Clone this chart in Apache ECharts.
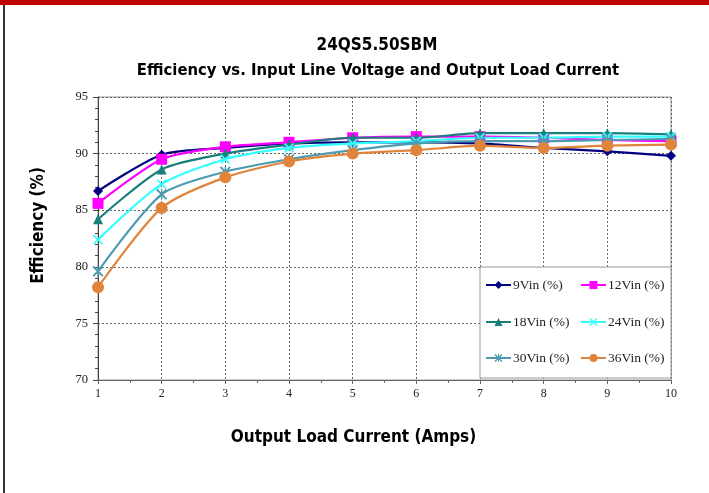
<!DOCTYPE html>
<html><head><meta charset="utf-8">
<script src="https://cdn.jsdelivr.net/npm/echarts@6/dist/echarts.min.js"></script>
<style>html,body{margin:0;padding:0;background:#fff}#c{width:709px;height:493px}</style>
</head><body><div id="c"></div>
<script>
const loadAmps = [1,2,3,4,5,6,7,8,9,10];
const seriesNames = ['9Vin (%)','12Vin (%)','18Vin (%)','24Vin (%)','30Vin (%)','36Vin (%)'];
const vin9  = [86.7, 89.9, 90.5, 90.9, 91.0, 91.0, 90.9, 90.5, 90.2, 89.8];
const vin12 = [85.6, 89.5, 90.6, 91.0, 91.4, 91.5, 91.5, 91.4, 91.2, 91.1];
const vin18 = [84.2, 88.6, 90.0, 90.8, 91.4, 91.4, 91.8, 91.8, 91.8, 91.7];
const vin24 = [82.4, 87.3, 89.5, 90.5, 90.9, 91.1, 91.4, 91.4, 91.5, 91.5];
const vin30 = [79.6, 86.4, 88.4, 89.5, 90.3, 90.9, 91.1, 91.1, 91.2, 91.3];
const vin36 = [78.2, 85.2, 87.9, 89.3, 90.0, 90.3, 90.7, 90.5, 90.7, 90.8];
const yTicks = [70, 75, 80, 85, 90, 95];

const allValues = [vin9, vin12, vin18, vin24, vin30, vin36];
const colors = ['#000080', '#FF00FF', '#1A7F7A', '#33FFFF', '#4C9BB0', '#E0843C'];
const X_SYM = 'path://M0,1.2L1.2,0L5,3.8L8.8,0L10,1.2L6.2,5L10,8.8L8.8,10L5,6.2L1.2,10L0,8.8L3.8,5Z';
const AST_SYM = 'path://M0,1.2L1.2,0L5,3.8L8.8,0L10,1.2L6.2,5L10,8.8L8.8,10L5,6.2L1.2,10L0,8.8L3.8,5Z M4.4,0L5.6,0L5.6,10L4.4,10Z';
const symbols = ['diamond', 'rect', 'triangle', X_SYM, AST_SYM, 'circle'];
const symSizes = [10, 11, 10, 10, 11, 12];

const chart = echarts.init(document.getElementById('c'), null, {renderer: 'canvas'});
const narrow = "'Liberation Sans Narrow', 'DejaVu Sans Condensed', Arial, sans-serif";
const serif = "'Liberation Serif', 'DejaVu Serif', serif";

const series = seriesNames.map((n, i) => ({
  name: n,
  type: 'line',
  smooth: 0.25,
  data: loadAmps.map((x, j) => [x, allValues[i][j]]),
  symbol: symbols[i],
  symbolSize: symSizes[i],
  showAllSymbol: true,
  lineStyle: {color: colors[i], width: 2.2},
  itemStyle: {color: colors[i]},
  z: 2 + i
}));

const legendPos = [[485, 278], [580, 278], [485, 315], [580, 315], [485, 351], [580, 351]];
const legends = seriesNames.map((n, i) => ({
  data: [n],
  left: legendPos[i][0],
  top: legendPos[i][1],
  itemWidth: 25,
  itemHeight: 10,
  itemGap: 0,
  padding: 0,
  z: 10,
  textStyle: {fontFamily: serif, fontSize: 13.5, color: '#222', padding: [0, 0, 0, -3]}
}));

chart.setOption({
  animation: false,
  backgroundColor: '#fff',
  title: [
    {text: '24QS5.50SBM', left: 372, top: 32, textAlign: 'center', textStyle: {fontFamily: narrow, fontWeight: 'bold', fontSize: 17, color: '#000'}},
    {text: 'Efficiency vs. Input Line Voltage and Output Load Current', left: 373, top: 57, textAlign: 'center', textStyle: {fontFamily: narrow, fontWeight: 'bold', fontSize: 16.5, color: '#000'}}
  ],
  legend: legends,
  graphic: [
    {type: 'rect', shape: {x: 0, y: 0, width: 709, height: 5}, style: {fill: '#C00000'}, z: 20},
    {type: 'rect', shape: {x: 3, y: 5, width: 2, height: 488}, style: {fill: '#333'}, z: 20},
    {type: 'rect', shape: {x: 480, y: 267, width: 191, height: 111}, style: {fill: '#fff', stroke: '#999', lineWidth: 1}, z: 9}
  ],
  grid: {left: 98, right: 38, top: 97, bottom: 113, show: true, borderColor: '#999', borderWidth: 1, backgroundColor: 'transparent'},
  xAxis: {
    type: 'value', min: 1, max: 10, interval: 1,
    name: 'Output Load Current (Amps)', nameLocation: 'middle', nameGap: 49,
    nameTextStyle: {fontFamily: narrow, fontWeight: 'bold', fontSize: 17, color: '#000', padding: [0, 62, 0, 0]},
    axisLine: {show: true, lineStyle: {color: '#666', width: 1}},
    axisTick: {show: true, inside: false, length: 4, lineStyle: {color: '#666'}},
    minorTick: {show: true, splitNumber: 2, length: 3, lineStyle: {color: '#666'}},
    axisLabel: {fontFamily: serif, fontSize: 12, color: '#222', margin: 8},
    splitLine: {show: true, lineStyle: {color: '#666', type: [2, 2], width: 1}}
  },
  yAxis: {
    type: 'value', min: yTicks[0], max: yTicks[yTicks.length - 1], interval: 5,
    name: 'Efficiency (%)', nameLocation: 'middle', nameGap: 51, nameRotate: 90,
    nameTextStyle: {fontFamily: narrow, fontWeight: 'bold', fontSize: 17, color: '#000', padding: [0, 0, 0, 26]},
    axisLine: {show: true, lineStyle: {color: '#444', width: 1}},
    axisTick: {show: true, length: 5, lineStyle: {color: '#444'}},
    minorTick: {show: true, splitNumber: 5, length: 3, lineStyle: {color: '#444'}},
    axisLabel: {fontFamily: serif, fontSize: 12.5, color: '#222', margin: 10},
    splitLine: {show: true, lineStyle: {color: '#666', type: [2, 2], width: 1}}
  },
  series: series
});
</script></body></html>
